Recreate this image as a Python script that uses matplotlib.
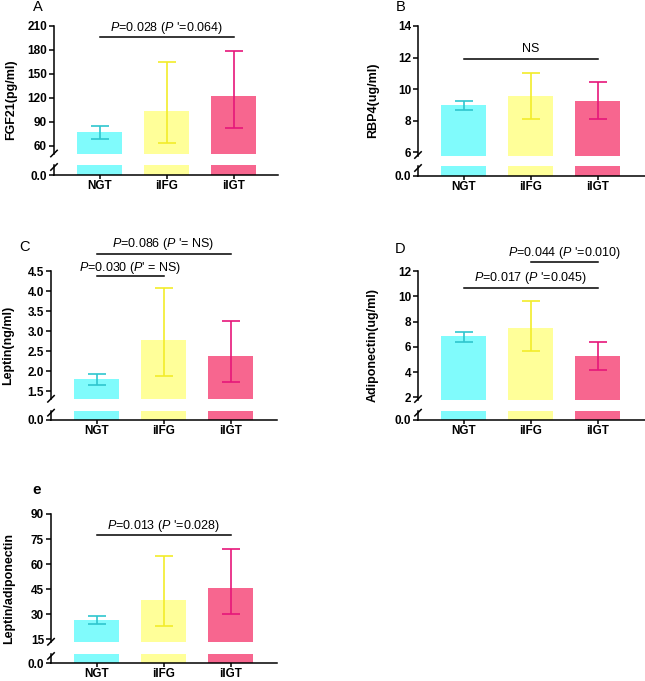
import matplotlib
matplotlib.use("Agg")
import matplotlib.pyplot as plt
from matplotlib.lines import Line2D

plt.rcParams['font.family'] = ['Liberation Sans', 'DejaVu Sans']
plt.rcParams['mathtext.fontset'] = 'custom'
plt.rcParams['mathtext.rm'] = 'Liberation Sans'
plt.rcParams['mathtext.it'] = 'Liberation Sans:italic'

groups = ["NGT", "iIFG", "iIGT"]
fill_colors = ["#80FBFC", "#FFFF99", "#F7668F"]
err_colors = ["#2FC6CE", "#F2EC2A", "#E6177A"]

# Panel A: FGF21
fgf21_mean = [77.5, 104, 122]
fgf21_low = [69, 64, 82]
fgf21_high = [85, 165, 179]
# Panel B: RBP4
rbp4_mean = [9.0, 9.55, 9.25]
rbp4_low = [8.7, 8.1, 8.1]
rbp4_high = [9.25, 11.05, 10.45]
# Panel C: Leptin
leptin_mean = [1.8, 2.78, 2.39]
leptin_low = [1.65, 1.88, 1.74]
leptin_high = [1.93, 4.08, 3.25]
# Panel D: Adiponectin
adipo_mean = [6.85, 7.47, 5.27]
adipo_low = [6.4, 5.65, 4.2]
adipo_high = [7.15, 9.65, 6.4]
# Panel e: Leptin/adiponectin
ratio_mean = [26.6, 38.8, 45.8]
ratio_low = [24, 23, 30]
ratio_high = [29, 65, 69]

W, H = 645, 681
fig = plt.figure(figsize=(W / 100, H / 100), dpi=100)


def fx(px):
    return px / W


def fy(py):
    return 1 - py / H


def slash(x, y, d=3.2):
    fig.add_artist(Line2D([fx(x - d), fx(x + d)], [fy(y + d), fy(y - d)],
                          color='black', lw=1.1, transform=fig.transFigure))


def panel(geom, mean, low, high, ylim_top, yticks, ylabel, label, label_pos,
          label_bold, ylabel_pos, sig):
    xl, xr, yt, yb, lt, lb = geom
    spacing = 67.0
    x0 = -45.5 / spacing
    x1 = (xr - xl - 45.5) / spacing
    xs = list(range(len(groups)))
    ax = fig.add_axes([fx(xl), fy(yb), fx(xr - xl), (yb - yt) / H])
    axl = fig.add_axes([fx(xl), fy(lb), fx(xr - xl), (lb - lt) / H])
    for a in (ax, axl):
        a.set_xlim(x0, x1)
        a.spines['top'].set_visible(False)
        a.spines['right'].set_visible(False)
        a.spines['left'].set_linewidth(1.1)
        a.spines['bottom'].set_linewidth(1.1)
        a.tick_params(axis='y', direction='out', length=3.5, width=1.1,
                      labelsize=8.5, pad=1.5)
    ax.bar(xs, mean, width=0.67, color=fill_colors, edgecolor='none', zorder=1)
    for i in xs:
        ax.errorbar(xs[i], mean[i],
                    yerr=[[mean[i] - low[i]], [high[i] - mean[i]]],
                    fmt='none', ecolor=err_colors[i], elinewidth=1.2,
                    capsize=6.5, capthick=1.2, zorder=3)
    ax.set_ylim(*ylim_top)
    ax.set_yticks(yticks)
    ax.set_yticklabels([str(v) for v in yticks], fontweight='bold', fontsize=8.5)
    ax.spines['bottom'].set_visible(False)
    ax.set_xticks([])
    axl.bar(xs, mean, width=0.67, color=fill_colors, edgecolor='none')
    axl.set_ylim(0, ylim_top[0] * 0.1)
    axl.set_yticks([0])
    axl.set_yticklabels(["0.0"], fontweight='bold', fontsize=8.5)
    axl.set_xticks(xs)
    axl.set_xticklabels(groups, fontweight='bold', fontsize=8.5)
    axl.tick_params(axis='x', direction='out', length=3, width=1.1, pad=0.6)
    slash(xl, yb - 0.5)
    slash(xl, lt + 2)
    for (xa, xb, yline, text, ytext, xtext) in sig:
        ax.plot([xa, xb], [yline, yline], color='black', lw=1.1, clip_on=False)
        ax.text(xtext, ytext, text, ha='center', va='center', fontsize=9,
                clip_on=False)
    fig.text(fx(label_pos[0]), fy(label_pos[1]), label, ha='center', va='center',
             fontsize=11 if label_bold else 10.5,
             fontweight='bold' if label_bold else 'normal')
    fig.text(fx(ylabel_pos[0]), fy(ylabel_pos[1]), ylabel, ha='center',
             va='center', rotation=90, fontsize=9, fontweight='bold')
    return ax


P = r"$\mathit{P}$"

panel((54, 278, 26, 154, 165, 175), fgf21_mean, fgf21_low, fgf21_high,
      (50, 210), [60, 90, 120, 150, 180, 210], "FGF21(pg/ml)", "A", (38, 7),
      False, (11, 100),
      [(0, 2, 195.9, P + "=0.028 (" + P + " '=0.064)", 207.5, 1)])

panel((418, 645, 26, 155.5, 166, 175.7), rbp4_mean, rbp4_low, rbp4_high,
      (5.8, 14), [6, 8, 10, 12, 14], "RBP4(ug/ml)", "B", (401, 7),
      False, (373, 100),
      [(0, 2, 11.89, "NS", 12.55, 1)])

panel((51, 277, 271, 399.3, 410.7, 420), leptin_mean, leptin_low, leptin_high,
      (1.3, 4.5), [1.5, 2.0, 2.5, 3.0, 3.5, 4.0, 4.5], "Leptin(ng/ml)", "C",
      (25, 247), False, (8, 345),
      [(0, 2, 4.92, P + "=0.086 (" + P + " '= NS)", 5.17, 1),
       (0, 1, 4.375, P + "=0.030 (" + P + "' = NS)", 4.58, 0.5)])

panel((418, 645, 271, 399.5, 410.7, 420), adipo_mean, adipo_low, adipo_high,
      (1.84, 12), [2, 4, 6, 8, 10, 12], "Adiponectin(ug/ml)", "D", (400, 249),
      False, (373, 345),
      [(1, 2, 12.69, P + "=0.044 (" + P + " '=0.010)", 13.42, 1.5),
       (0, 2, 10.68, P + "=0.017 (" + P + " '=0.045)", 11.45, 1)])

panel((51, 277, 514, 642.3, 654, 663.3), ratio_mean, ratio_low, ratio_high,
      (13.2, 90), [15, 30, 45, 60, 75, 90], "Leptin/adiponectin", "e",
      (37, 490), True, (9, 589),
      [(0, 2, 77.6, P + "=0.013 (" + P + " '=0.028)", 83.0, 1)])

fig.savefig("out.png", dpi=100)
